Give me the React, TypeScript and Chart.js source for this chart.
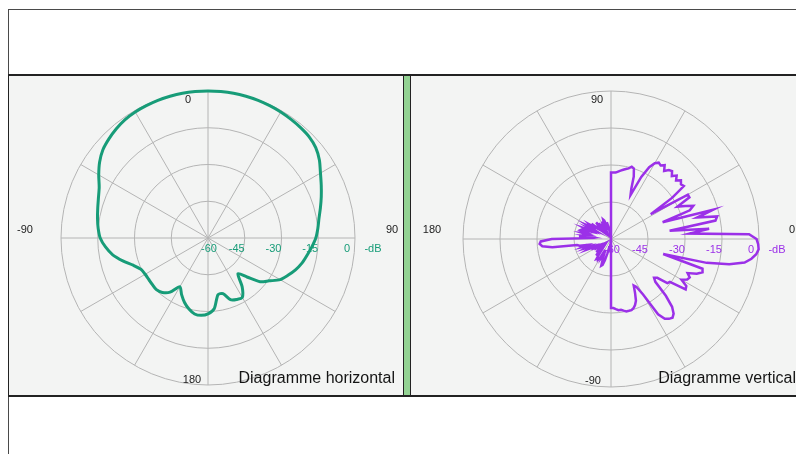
import React, { useEffect, useRef } from "react";
import { Chart, registerables } from "chart.js";

Chart.register(...registerables);

// ---------- DATA ----------
// radial scale (dB)
const DB_TICKS = [-60, -45, -30, -15, 0];
const DB_UNIT = "-dB";

// Horizontal pattern: azimuth (deg, clockwise from top) and level (dB)
const H_ANGLES = [
  0, 5, 10, 15, 20, 25, 30, 35, 40, 45, 50, 55, 60, 65, 70, 75, 80, 85,
  90, 95, 100, 105, 110, 115, 120, 125, 130, 135, 140, 145, 150, 155, 160, 165, 170, 175,
  180, -175, -170, -165, -160, -155, -150, -145, -140, -135, -130, -125, -120, -115, -110, -105, -100, -95,
  -90, -85, -80, -75, -70, -65, -60, -55, -50, -45, -40, -35, -30, -25, -20, -15, -10, -5,
];
const H_DB = [
  0, 0, 0, -0.1, -0.2, -0.4, -0.6, -0.9, -1.2, -1.6, -2.6, -4.5, -7, -9, -10.8, -12.5, -14, -15,
  -16, -17.5, -19, -20.3, -22, -24, -26, -29.5, -32.2, -37.5, -41, -35.7, -32, -32.3, -33.2, -36.5, -36.5, -31,
  -29, -28.3, -28.5, -30, -32, -34.5, -37, -33, -31, -30.2, -30.4, -30.5, -30.4, -29.8, -27.5, -24, -20.5, -18,
  -16, -15, -14.2, -13.4, -12.4, -11, -8.5, -6, -4, -2.8, -1.8, -1, -0.6, -0.4, -0.2, -0.1, 0, 0,
];
const H_AXIS_LABELS = ["0", "90", "180", "-90"];
const H_TITLE = "Diagramme horizontal";

// Vertical pattern: elevation (deg, 0 = right, 90 = up), listed clockwise from the right
const V_ANGLES = [
  0, -2, -4, -6, -8, -10, -12, -14, -16, -18, -20, -22, -24, -26, -28, -30, -32, -34, -36, -38,
  -40, -42, -44, -46, -48, -50, -52, -54, -56, -58, -60, -62, -64, -66, -68, -70, -72, -74, -76, -78,
  -80, -82, -84, -86, -88, -90,
  -92, -94, -96, -98, -100, -102, -104, -106, -108, -110, -112, -114, -116, -118, -120, -122, -124, -126, -128, -130,
  -132, -134, -136, -138, -140, -142, -144, -146, -148, -150, -152, -154, -156, -158, -160, -162, -164, -166, -168, -170,
  -172, -174, -176, -178,
  180,
  178, 176, 174, 172, 170, 168, 166, 164, 162, 160, 158, 156, 154, 152, 150, 148, 146, 144, 142, 140,
  138, 136, 134, 132, 130, 128, 126, 124, 122, 120, 118, 116, 114, 112, 110, 108, 106, 104, 102, 100,
  98, 96, 94, 92,
  90, 88, 86, 84, 82, 80, 78, 76, 74, 72, 70, 68, 66, 64, 62, 60, 58, 56, 54, 52,
  50, 48, 46, 44, 42, 40, 38, 36, 34, 32, 30, 28, 26, 24, 22, 20, 18, 16, 14, 12,
  10, 8, 6, 4, 2,
];
const V_DB = [
  -1, -0.3, 0, -0.8, -2.5, -5, -11, -20, -38, -21, -20.5, -22.5, -26, -24.5, -25, -27, -24, -23.5, -30.5, -31,
  -35.5, -36.5, -35, -28, -23, -20.5, -19.5, -20, -21, -24, -34, -38, -39, -36, -33, -31.5, -30.5, -30, -30, -30,
  -30.5, -31, -31, -31.5, -32, -32,
  -60, -60, -58, -57, -55, -57, -54, -51, -49, -48.5, -51, -53, -52, -55, -51, -50, -50.5, -50, -52, -54,
  -51, -53, -55, -52, -54, -56, -53, -55, -52, -54, -51, -53, -50, -52, -49, -51, -48, -50, -47, -46,
  -36, -32, -31, -31.5,
  -36,
  -50, -47, -52, -49, -51, -48, -50, -47, -47.5, -51, -48.5, -52, -50, -53, -49, -51, -49.5, -52, -50, -54,
  -52, -55, -53, -51, -54, -52, -55, -53, -56, -54, -52, -55, -53, -51.5, -52, -54, -56, -53, -55, -57,
  -56, -58, -60, -60,
  -33, -33, -33, -32.5, -32, -31.5, -31, -30.5, -29.5, -30, -33, -38, -40.5, -32, -27, -24.5, -23.5, -24, -23, -25,
  -23.5, -23, -24.5, -23, -24.5, -23, -24, -23.5, -30, -41, -24, -24, -30, -27, -24, -26, -38, -17, -24, -16,
  -17, -36, -20, -28, -4,
];
const V_AXIS_LABELS = ["90", "180", "0", "-90"];
const V_TITLE = "Diagramme vertical";

// ---------- STYLE ----------
const FONT = "'Liberation Sans', Arial, Helvetica, sans-serif";
const GREEN = "#179c78";
const PURPLE = "#9b30e8";
const GRID = "#b4b4b4";
const PANEL_BG = "#f3f4f3";

type LabelPos = { kx: number; ky: number; dx: number; dy: number };

function overlayPlugin(
  axisLabels: string[],
  positions: LabelPos[],
  color: string,
  title: string
) {
  return {
    id: "polarOverlay",
    beforeDatasetsDraw(chart: any) {
      const s = chart.scales.r;
      const ctx = chart.ctx;
      const cx = s.xCenter;
      const cy = s.yCenter;
      const R = s.drawingArea;
      ctx.save();
      ctx.font = "11px " + FONT;
      ctx.textAlign = "center";
      ctx.textBaseline = "middle";
      ctx.fillStyle = "#1c1c1c";
      axisLabels.forEach((t, i) => {
        const p = positions[i];
        ctx.fillText(t, cx + p.kx * R + p.dx, cy + p.ky * R + p.dy);
      });
      ctx.fillStyle = color;
      DB_TICKS.forEach((v) => {
        const d = s.getDistanceFromCenterForValue(v);
        ctx.fillText(String(v), d < 1 ? cx + 1 : cx + d - 8, cy + 11);
      });
      ctx.fillText(DB_UNIT, cx + R + 18, cy + 11);
      ctx.restore();
    },
    afterDraw(chart: any) {
      const ctx = chart.ctx;
      ctx.save();
      ctx.font = "16px " + FONT;
      ctx.textAlign = "right";
      ctx.textBaseline = "alphabetic";
      ctx.fillStyle = "#151515";
      ctx.fillText(title, chart.width - 8, 307);
      ctx.restore();
    },
  };
}

function PolarPanel(props: {
  width: number;
  height: number;
  angles: number[];
  values: number[];
  startAngle: number;
  spokeEvery: number;
  color: string;
  lineWidth: number;
  tension: number;
  padding: { left: number; top: number; right: number; bottom: number };
  axisLabels: string[];
  positions: LabelPos[];
  title: string;
}) {
  const ref = useRef<HTMLCanvasElement | null>(null);
  useEffect(() => {
    if (!ref.current) return;
    const chart = new Chart(ref.current, {
      type: "radar",
      data: {
        labels: props.angles.map(String),
        datasets: [
          {
            data: props.values,
            borderColor: props.color,
            borderWidth: props.lineWidth,
            backgroundColor: "transparent",
            fill: false,
            pointRadius: 0,
            tension: props.tension,
          },
        ],
      },
      options: {
        animation: false,
        responsive: false,
        devicePixelRatio: 1,
        layout: { padding: props.padding },
        plugins: { legend: { display: false }, tooltip: { enabled: false } },
        scales: {
          r: {
            min: -60,
            max: 0,
            startAngle: props.startAngle,
            ticks: { display: false, stepSize: 15 },
            pointLabels: { display: false },
            grid: { circular: true, color: GRID, lineWidth: 1 },
            angleLines: {
              display: true,
              color: GRID,
              lineWidth: (c: any) => (c.index % props.spokeEvery === 0 ? 1 : 0),
            },
          },
        },
      } as any,
      plugins: [overlayPlugin(props.axisLabels, props.positions, props.color, props.title)],
    });
    return () => chart.destroy();
  }, []);
  return (
    <canvas
      ref={ref}
      width={props.width}
      height={props.height}
      style={{ position: "absolute", left: 0, top: 0, width: props.width, height: props.height }}
    />
  );
}

export default function App() {
  return (
    <div style={{ position: "relative", width: 796, height: 446, background: "#fff", fontFamily: FONT }}>
      {/* outer frame */}
      <div
        style={{
          position: "absolute",
          left: 0,
          top: 1,
          width: 796,
          height: 445,
          borderTop: "1px solid #4a4a4a",
          borderLeft: "1px solid #4a4a4a",
          boxSizing: "border-box",
        }}
      />
      {/* panel row */}
      <div style={{ position: "absolute", left: 0, top: 66, width: 796, height: 323, background: "#222" }}>
        <div style={{ position: "absolute", left: 1, top: 2, width: 394, height: 319, background: PANEL_BG, overflow: "hidden" }}>
          <PolarPanel
            width={394}
            height={319}
            angles={H_ANGLES}
            values={H_DB}
            startAngle={0}
            spokeEvery={6}
            color={GREEN}
            lineWidth={3}
            tension={0.25}
            padding={{ left: 52, top: 15, right: 48, bottom: 10 }}
            axisLabels={H_AXIS_LABELS}
            positions={[
              { kx: 0, ky: -1, dx: -20, dy: 9 },
              { kx: 1, ky: 0, dx: 37, dy: -8 },
              { kx: 0, ky: 1, dx: -16, dy: -5 },
              { kx: -1, ky: 0, dx: -36, dy: -8 },
            ]}
            title={H_TITLE}
          />
        </div>
        <div style={{ position: "absolute", left: 396, top: 2, width: 6, height: 319, background: "#93d293" }} />
        <div style={{ position: "absolute", left: 403, top: 2, width: 393, height: 319, background: PANEL_BG, overflow: "hidden" }}>
          <PolarPanel
            width={393}
            height={319}
            angles={V_ANGLES}
            values={V_DB}
            startAngle={90}
            spokeEvery={15}
            color={PURPLE}
            lineWidth={2.5}
            tension={0}
            padding={{ left: 52, top: 15, right: 45, bottom: 8 }}
            axisLabels={V_AXIS_LABELS}
            positions={[
              { kx: 0, ky: -1, dx: -14, dy: 9 },
              { kx: -1, ky: 0, dx: -31, dy: -9 },
              { kx: 1, ky: 0, dx: 33, dy: -9 },
              { kx: 0, ky: 1, dx: -18, dy: -6 },
            ]}
            title={V_TITLE}
          />
        </div>
      </div>
    </div>
  );
}
